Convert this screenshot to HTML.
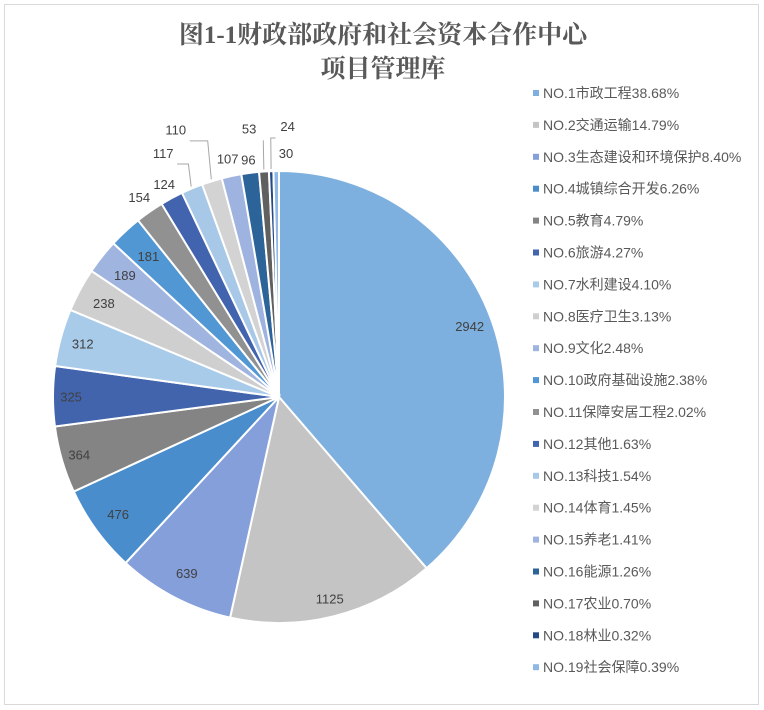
<!DOCTYPE html>
<html><head><meta charset="utf-8">
<style>
body{margin:0;background:#fff;}
svg{display:block;font-family:"Liberation Sans","Noto Sans CJK SC",sans-serif;}
</style></head>
<body>
<svg id="chart" width="764" height="710" viewBox="0 0 764 710">
<rect x="4.5" y="4.5" width="754" height="700" fill="#fff" stroke="#d9d9d9"/>
<text x="383" y="43" text-anchor="middle" font-size="25" font-weight="bold" fill="#595959" font-family="'Liberation Serif','Noto Serif CJK SC',serif">图1-1财政部政府和社会资本合作中心</text>
<text x="383" y="77" text-anchor="middle" font-size="25" font-weight="bold" fill="#595959" font-family="'Liberation Serif','Noto Serif CJK SC',serif">项目管理库</text>
<g id="slices"></g><g id="labels"></g><g id="legend"></g>
</svg>
<script>
const categories=["NO.1市政工程","NO.2交通运输","NO.3生态建设和环境保护","NO.4城镇综合开发","NO.5教育","NO.6旅游","NO.7水利建设","NO.8医疗卫生","NO.9文化","NO.10政府基础设施","NO.11保障安居工程","NO.12其他","NO.13科技","NO.14体育","NO.15养老","NO.16能源","NO.17农业","NO.18林业","NO.19社会保障"];
const values=[2942,1125,639,476,364,325,312,238,189,181,154,124,117,110,107,96,53,24,30];
const percentLabels=["38.68%","14.79%","8.40%","6.26%","4.79%","4.27%","4.10%","3.13%","2.48%","2.38%","2.02%","1.63%","1.54%","1.45%","1.41%","1.26%","0.70%","0.32%","0.39%"];
const colors=["#7eb0df","#c4c4c4","#859fdb","#4a8dcc","#848484","#4264ad","#a9cbea","#cfcfcf","#a0b4e0","#5197d3","#919191","#4263ad","#a8c8e8","#d3d3d3","#9fb3e0","#2c6399","#606060","#264a86","#8fb8e4"];
const labelRad=[0.9,0.92,0.88,0.88,0.92,0.92,0.9,0.88,0.87,0.85,1.08,1.07,1.17,1.24,1.08,1.06,1.19,1.2,1.08];
const labelDx=[0,0,0,0,0,0,0,0,0,0,0,0,-14,-20,0,0,-12,18,10];
const NS="http://www.w3.org/2000/svg";
const cx=279,cy=397,R=226;
const total=values.reduce((a,b)=>a+b,0);
function pt(a,r){return [cx+r*Math.sin(a),cy-r*Math.cos(a)];}
const gS=document.getElementById('slices'),gL=document.getElementById('labels'),gG=document.getElementById('legend');
let acc=0;
values.forEach((v,i)=>{
  const a0=acc/total*2*Math.PI;acc+=v;const a1=acc/total*2*Math.PI;
  const p0=pt(a0,R),p1=pt(a1,R);const large=(a1-a0)>Math.PI?1:0;
  const p=document.createElementNS(NS,'path');
  p.setAttribute('d',`M${cx},${cy}L${p0[0]},${p0[1]}A${R},${R} 0 ${large} 1 ${p1[0]},${p1[1]}Z`);
  p.setAttribute('fill',colors[i]);p.setAttribute('stroke','#fff');p.setAttribute('stroke-width','2');
  
  
  gS.appendChild(p);
  const am=(a0+a1)/2;const lr=R*labelRad[i];const lp=pt(am,lr);lp[0]+=labelDx[i];
  if(labelRad[i]>1.12){
    const s=pt(am,R+2),e=pt(am,lr-12);
    const ex=lp[0]+(labelDx[i]<0?14:-12);
    const l=document.createElementNS(NS,'polyline');
    l.setAttribute('points',`${s[0]},${s[1]} ${s[0]+(e[0]-s[0])*0.3},${e[1]} ${ex},${e[1]}`);
    l.setAttribute('fill','none');l.setAttribute('stroke','#a6a6a6');l.setAttribute('stroke-width','1');
    
    
    gL.appendChild(l);
  }
  const t=document.createElementNS(NS,'text');
  t.setAttribute('x',lp[0]);t.setAttribute('y',lp[1]+5);t.setAttribute('text-anchor','middle');
  t.setAttribute('font-size','13');t.setAttribute('fill','#404040');t.textContent=v;
  
  
  gL.appendChild(t);
  const y=93+i*31.9;
  const r=document.createElementNS(NS,'rect');
  r.setAttribute('x',533);r.setAttribute('y',y-3);r.setAttribute('width',6);r.setAttribute('height',6);r.setAttribute('fill',colors[i]);
  
  
  gG.appendChild(r);
  const lt=document.createElementNS(NS,'text');
  lt.setAttribute('x',543);lt.setAttribute('y',y+5);lt.setAttribute('font-size','14');lt.setAttribute('fill','#595959');
  lt.textContent=categories[i]+percentLabels[i];
  
  
  gG.appendChild(lt);
});
</script>
</body></html>
